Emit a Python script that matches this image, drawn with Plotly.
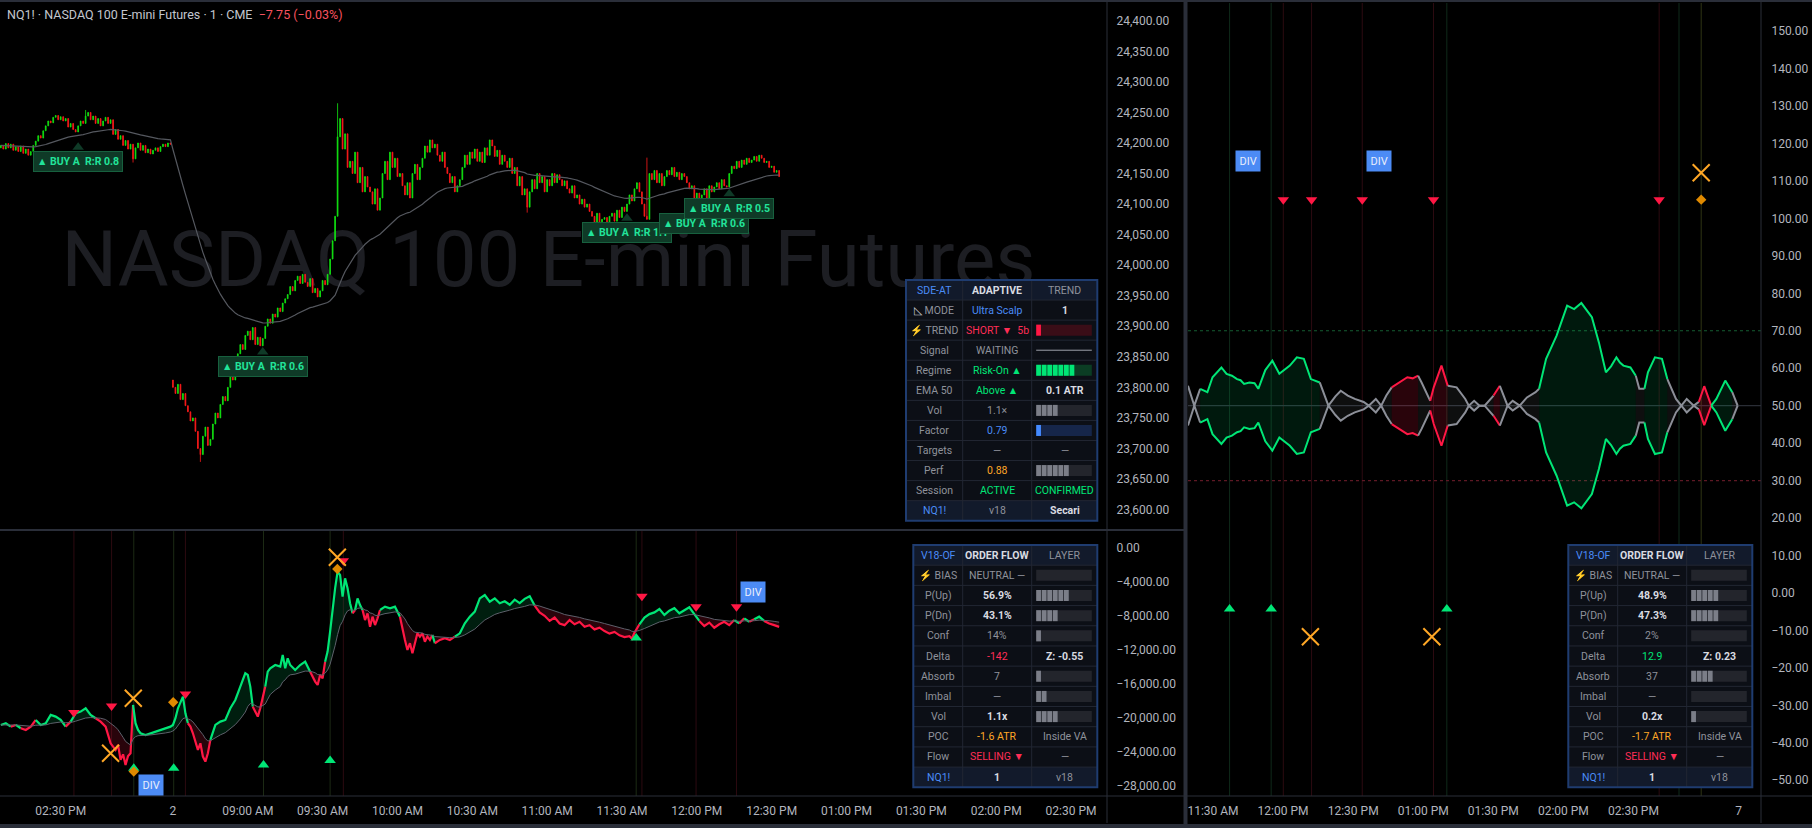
import plotly.graph_objects as go

W, H = 1812, 828
FONT = "Roboto"

# ------------------------------------------------------------------ price data (1-min bars; slot = list position)
day1_open = 24192
day1_close = [24196, 24190, 24199, 24192, 24198, 24188, 24194, 24186, 24195, 24183, 24190, 24180, 24186,
              24196, 24203, 24212, 24208, 24220,
              24228, 24236, 24233, 24242,
              24245, 24238, 24243, 24236, 24240,
              24226, 24232, 24222, 24218, 24228,
              24236, 24232, 24244, 24250,
              24238, 24244, 24232, 24240, 24228,
              24236, 24242, 24232, 24238,
              24214, 24222, 24206, 24212,
              24196, 24204, 24190, 24198, 24174,
              24192, 24200, 24188, 24196,
              24184, 24190, 24182, 24188, 24192, 24186,
              24194, 24198, 24194, 24200, 24198]
day2_open = 23812
day2_close = [23800, 23790, 23805, 23780, 23790, 23770,
              23760, 23745, 23750, 23728,
              23700, 23690,
              23720, 23735, 23705, 23715,
              23740, 23758, 23750, 23772, 23785, 23778,
              23800, 23820, 23812, 23840,
              23855, 23870, 23862, 23885,
              23892, 23878, 23898, 23870, 23882, 23868, 23880,
              23900, 23912, 23905, 23920, 23915, 23930, 23924, 23938, 23945,
              23952, 23965, 23958, 23975, 23982, 23970,
              23985, 23972, 23965, 23978, 23955, 23962, 23948,
              23958, 23975, 23968, 23985,
              24010, 24040, 24080,
              24210,
              24240, 24190, 24215, 24160,
              24170, 24150, 24185, 24135, 24160, 24120, 24145, 24128,
              24120, 24100, 24125, 24090, 24110,
              24150, 24170, 24140, 24185, 24160, 24175, 24145, 24150,
              24130, 24115, 24135, 24110,
              24150, 24165, 24140, 24160,
              24175, 24195, 24185, 24205, 24192, 24198,
              24180, 24170, 24185, 24160,
              24150, 24135, 24145, 24120, 24130, 24140,
              24160, 24180, 24165, 24185,
              24175, 24190, 24170, 24185, 24168, 24192, 24180, 24205,
              24195, 24178, 24188, 24165, 24180, 24170, 24160, 24175,
              24150, 24160, 24130, 24145, 24115, 24125, 24095, 24120,
              24140, 24125, 24150, 24135, 24145, 24120, 24140, 24130,
              24150, 24135, 24148, 24140, 24130, 24138,
              24125, 24118, 24130, 24110, 24115, 24100, 24108, 24095, 24100, 24088,
              24080, 24070, 24085, 24065, 24075, 24078, 24068, 24080,
              24085, 24072, 24090, 24078, 24095, 24088,
              24100, 24115, 24105, 24125, 24135, 24120,
              24100, 24080, 24075, 24150,
              24140, 24155, 24135, 24150, 24130, 24145,
              24155, 24148, 24160, 24145, 24152, 24140, 24150, 24145,
              24135, 24125, 24130, 24110, 24118, 24105,
              24115, 24125, 24108, 24130, 24120, 24128,
              24135, 24125, 24140, 24130, 24128,
              24150, 24162, 24158,
              24170, 24160, 24172, 24165, 24175, 24168, 24172, 24178, 24170, 24180,
              24175, 24168, 24170, 24160, 24162, 24152, 24155, 24145]
wick_high = {34: 24254, 135: 24265, 259: 24176}
wick_low = {53: 24168, 80: 23678, 211: 24086, 240: 24058}
ema_len = 50

buy_slot = [31, 105, 251, 282, 292]
buy_tip = [24193, 23858, 24077, 24092, 24117]
buy_rr = ["0.8", "0.6", "1.1", "0.6", "0.5"]

left_tick_slot = [24, 69, 99, 129, 159, 189, 219, 249, 279, 309, 339, 369, 399, 429]
left_tick_text = ["02:30 PM", "2", "09:00 AM", "09:30 AM", "10:00 AM", "10:30 AM", "11:00 AM",
                  "11:30 AM", "12:00 PM", "12:30 PM", "01:00 PM", "01:30 PM", "02:00 PM", "02:30 PM"]

# ------------------------------------------------------------------ order-flow oscillator (lower-left pane)
osc_slot = [0, 2, 4, 6, 8, 10, 12, 14, 16, 18,
            20, 22, 24, 26, 28, 30, 32, 34, 36, 38,
            40, 42, 44, 46, 47, 48, 49, 50, 51, 52,
            53, 54, 55, 56, 58, 60, 62, 64, 66, 68,
            69, 70, 71, 72, 73, 74, 75, 76, 77, 78,
            79, 80, 81, 82, 83, 84, 85, 86, 88, 90,
            92, 94, 96, 98, 99, 100, 101, 102, 103, 104,
            106, 107, 108, 110, 112, 113, 114, 115, 116, 118,
            120, 122, 124, 126, 127, 128, 129, 130, 131, 132,
            133, 134, 135, 136, 137, 138, 139, 140, 141, 142,
            143, 144, 145, 146, 147, 148, 149, 150, 151, 152,
            154, 156, 158, 160, 161, 162, 163, 164, 165, 166,
            167, 168, 169, 170, 171, 172, 173, 174, 176, 178,
            180, 182, 184, 186, 188, 190, 192, 194, 196, 198,
            200, 202, 204, 206, 208, 210, 212, 214, 216, 218,
            220, 222, 224, 226, 228, 230, 232, 234, 236, 238,
            240, 242, 244, 246, 248, 250, 252, 253, 254, 256,
            258, 260, 262, 264, 266, 268, 270, 272, 274, 276,
            278, 280, 282, 284, 286, 288, 290, 292, 294, 296,
            298, 300, 302, 304, 306, 308, 310, 312]
osc_val = [-20840, -20640, -21040, -20840, -21230, -21430, -21040, -20250, -20840, -20640,
           -19660, -19860, -20250, -21040, -20450, -19470, -19270, -18880, -19660, -20050,
           -20450, -21040, -23000, -23780, -23200, -24950, -24300, -25540, -24500, -24170,
           -18490, -20640, -21430, -21820, -22020, -21820, -21630, -21430, -21230, -21040,
           -20840, -20050, -18880, -18290, -17510, -19470, -20640, -21040, -21820, -22800,
           -23780, -23000, -24560, -25150, -24170, -22600, -21630, -20840, -20450, -20250,
           -18880, -17900, -16330, -14760, -14960, -16330, -18690, -19280, -19860, -18880,
           -16330, -14570, -14180, -13790, -13980, -12600, -14180, -13000, -13790, -14370,
           -13790, -13400, -14570, -15740, -16130, -14960, -15350, -13400, -12210, -9870,
           -7120, -4770, -2810, -3200, -5750, -3590, -4770, -6530, -7710, -7320,
           -5950, -6740, -7320, -8500, -7710, -9280, -8100, -9090, -8300, -7320,
           -6930, -7130, -6930, -8100, -9670, -10840, -12020, -11230, -12410, -11040,
           -10060, -10450, -10060, -11040, -10450, -10840, -10250, -11230, -10840, -10640,
           -10840, -10450, -10060, -8890, -8100, -7510, -5950, -5550, -6340, -5950,
           -6530, -6300, -6700, -6100, -6500, -6000, -5700, -6800, -7600, -8000,
           -8600, -8200, -8900, -9100, -8500, -9000, -8700, -9300, -9100, -9600,
           -9400, -9800, -10100, -9900, -10300, -10500, -10400, -10700, -10000, -9000,
           -8200, -7800, -7600, -7200, -7900, -7400, -7100, -7700, -7300, -7000,
           -7800, -8600, -9200, -8800, -9400, -9000, -8700, -9100, -8500, -8900,
           -8300, -8700, -8400, -8100, -8600, -8900, -9100, -9300]
osc_sig_alpha = 0.15

osc_sell_slot = [29.3, 44.4, 74.0, 137.3, 257.0, 278.7, 294.9]
osc_sell_val = [-19390, -18600, -17190, -1510, -5710, -6930, -6930]
osc_buy_slot = [53.3, 69.3, 105.3, 132.0, 254.7]
osc_buy_val = [-25930, -25930, -25540, -25030, -10600]
osc_x_slot = [53.1, 44.0, 134.9]
osc_x_val = [-17700, -24170, -1120]
osc_dia_slot = [69.1, 134.9, 53.3]
osc_dia_val = [-18170, -2490, -26330]
osc_div_slot = [60.0, 301.4]
osc_div_val = [-27890, -5170]

# ------------------------------------------------------------------ right pane: symmetric envelope around 50
env_t = [19.3, 22.0, 24.5, 27.6, 29.8, 33.6, 35.8, 38.1, 40.3, 41.8,
         43.3, 45.6, 47.8, 49.4, 52.4, 55.4, 58.4, 62.9, 65.9, 68.9,
         71.9, 75.7, 79.4, 82.4, 84.7, 87.7, 90.7, 94.5, 96.7, 99.7,
         102.0, 104.2, 106.5, 109.5, 113.2, 115.5, 117.8, 119.3, 123.0, 124.5,
         127.8, 130.5, 134.3, 138.0, 139.5, 141.8, 144.1, 146.3, 150.1, 152.8,
         154.6, 156.1, 158.3, 161.3, 164.4, 168.1, 169.6, 172.6, 177.1, 181.6,
         184.6, 187.7, 192.2, 195.2, 198.2, 200.4, 202.7, 204.2, 205.7, 208.7,
         211.0, 212.5, 214.7, 216.2, 219.2, 222.2, 224.5, 228.2, 230.5, 232.8,
         235.8, 238.0, 240.3, 243.3, 245.5, 249.3, 252.3, 254.6]
env_amp = [5.3, 0, 4.5, 3.6, 7.6, 10.2, 8.5, 8.0, 7.1, 6.8,
           5.8, 6.2, 6.0, 4.5, 9.5, 12.0, 8.5, 10.7, 12.9, 12.5,
           7.1, 6.2, 0, 2.5, 4.0, 2.7, 1.8, 1.0, 0, 1.8,
           0, 2.7, 4.9, 6.2, 7.6, 7.3, 8.0, 6.2, 1.3, 4.9,
           10.7, 5.3, 4.9, 1.8, 0, 1.3, 0, 0, 2.7, 5.3,
           2.5, 0, 1.3, 0, 2.2, 3.6, 4.5, 12.5, 18.7, 26.7,
           25.8, 27.4, 23.6, 16.9, 8.9, 10.5, 12.9, 11.5, 10.7, 10.2,
           8.0, 4.5, 4.5, 8.9, 12.9, 12.5, 7.1, 1.8, 0, 1.8,
           0, 1.0, 5.2, 0, 1.8, 6.7, 3.6, 0]
env_state = ("nn" + "ggggggggggggggggggg" + "nnnnnnnnnnn" + "rrrr" + "nn" + "rrr" + "nnnnnnn" + "r" +
             "nnnnnnn" + "gggggggggggggg" + "nn" + "gggg" + "nnnnn" + "rr" + "ggg" + "nn")
env_mid, env_hi, env_lo = 50, 70, 30

right_tick_t = [30, 60, 90, 120, 150, 180, 210, 255]
right_tick_text = ["11:30 AM", "12:00 PM", "12:30 PM", "01:00 PM", "01:30 PM", "02:00 PM", "02:30 PM", "7"]

r_sell_t = [60.1, 72.2, 93.9, 124.4, 221.0]
r_sell_val = [105, 105, 105, 105, 105]
r_buy_t = [37.1, 54.9, 130.1]
r_buy_val = [-4.3, -4.3, -4.3]
r_x_t = [239.0, 71.7, 123.7]
r_x_val = [112.2, -11.7, -11.7]
r_dia_t = [239.0]
r_dia_val = [105]
r_div_t = [45.1, 101.2]
r_div_val = [115.4, 115.4]
r_extra_line_t = [229.5]

# ------------------------------------------------------------------ tables
BOLT = "<span style='color:#ff9800'>⚡</span>"
ICON = "<span style='color:#c8cad0'>◺</span>"
table1 = [
    [("SDE-AT", "b", 0), ("ADAPTIVE", "w", 1), ("TREND", "g", 0)],
    [(ICON + " MODE", "g", 0), ("Ultra Scalp", "b", 0), ("1", "w", 1)],
    [(BOLT + " TREND", "g", 0), ("SHORT ▼\u00a0\u00a05b", "r", 0), ("#bar", "red", 0.1)],
    [("Signal", "g", 0), ("WAITING", "g", 0), ("#dash",)],
    [("Regime", "g", 0), ("Risk-On ▲", "gr", 0), ("#bar", "green", 0.7)],
    [("EMA 50", "g", 0), ("Above ▲", "gr", 0), ("0.1 ATR", "w", 1)],
    [("Vol", "g", 0), ("1.1×", "g", 0), ("#bar", "gray", 0.4)],
    [("Factor", "g", 0), ("0.79", "b", 0), ("#bar", "blue", 0.1)],
    [("Targets", "g", 0), ("—", "g", 0), ("—", "g", 0)],
    [("Perf", "g", 0), ("0.88", "o", 0), ("#bar", "gray", 0.6)],
    [("Session", "g", 0), ("ACTIVE", "gr", 0), ("CONFIRMED", "gr", 0)],
    [("NQ1!", "b", 0), ("v18", "g", 0), ("Secari", "w", 1)],
]
table2 = [
    [("V18-OF", "b", 0), ("ORDER FLOW", "w", 1), ("LAYER", "g", 0)],
    [(BOLT + " BIAS", "g", 0), ("NEUTRAL —", "g", 0), ("#bar", "gray", 0.0)],
    [("P(Up)", "g", 0), ("56.9%", "w", 1), ("#bar", "gray", 0.6)],
    [("P(Dn)", "g", 0), ("43.1%", "w", 1), ("#bar", "gray", 0.4)],
    [("Conf", "g", 0), ("14%", "g", 0), ("#bar", "gray", 0.1)],
    [("Delta", "g", 0), ("-142", "r", 0), ("Z: -0.55", "w", 1)],
    [("Absorb", "g", 0), ("7", "g", 0), ("#bar", "gray", 0.1)],
    [("Imbal", "g", 0), ("—", "g", 0), ("#bar", "gray", 0.2)],
    [("Vol", "g", 0), ("1.1x", "w", 1), ("#bar", "gray", 0.4)],
    [("POC", "g", 0), ("-1.6 ATR", "o", 0), ("Inside VA", "g", 0)],
    [("Flow", "g", 0), ("SELLING ▼", "r", 0), ("—", "g", 0)],
    [("NQ1!", "b", 0), ("1", "w", 1), ("v18", "g", 0)],
]
table3 = [
    [("V18-OF", "b", 0), ("ORDER FLOW", "w", 1), ("LAYER", "g", 0)],
    [(BOLT + " BIAS", "g", 0), ("NEUTRAL —", "g", 0), ("#bar", "gray", 0.0)],
    [("P(Up)", "g", 0), ("48.9%", "w", 1), ("#bar", "gray", 0.5)],
    [("P(Dn)", "g", 0), ("47.3%", "w", 1), ("#bar", "gray", 0.5)],
    [("Conf", "g", 0), ("2%", "g", 0), ("#bar", "gray", 0.0)],
    [("Delta", "g", 0), ("12.9", "gr", 0), ("Z: 0.23", "w", 1)],
    [("Absorb", "g", 0), ("37", "g", 0), ("#bar", "gray", 0.4)],
    [("Imbal", "g", 0), ("—", "g", 0), ("#bar", "gray", 0.0)],
    [("Vol", "g", 0), ("0.2x", "w", 1), ("#bar", "gray", 0.1)],
    [("POC", "g", 0), ("-1.7 ATR", "o", 0), ("Inside VA", "g", 0)],
    [("Flow", "g", 0), ("SELLING ▼", "r", 0), ("—", "g", 0)],
    [("NQ1!", "b", 0), ("1", "w", 1), ("v18", "g", 0)],
]

# ------------------------------------------------------------------ styles
GREEN, RED, GRAYL = "#00e676", "#ff1744", "#8c8f98"
TXT = dict(b="#4a8cf7", w="#d9dbe1", g="#8f929b", r="#ff2d55", gr="#00e676", o="#ffa726")
BAR_BG = dict(red="#3a0d17", green="#0b3d24", gray="#23252c", blue="#16264a")
BAR_FG = dict(red="#ff1744", green="#00e676", gray="#7b7e88", blue="#448aff")
FRAME = "#2a2e39"

# ------------------------------------------------------------------ derived series
closes = day1_close + day2_close
opens = [day1_open] + day1_close[:-1] + [day2_open] + day2_close[:-1]
slots = list(range(len(closes)))
highs = [max(o, c) for o, c in zip(opens, closes)]
lows = [min(o, c) for o, c in zip(opens, closes)]
for k, v in wick_high.items():
    highs[k] = max(highs[k], v)
for k, v in wick_low.items():
    lows[k] = min(lows[k], v)

ema = []
ka = 2.0 / (ema_len + 1)
for c in closes:
    ema.append(c if not ema else ema[-1] + ka * (c - ema[-1]))

sig = []
for v in osc_val:
    sig.append(v if not sig else sig[-1] + osc_sig_alpha * (v - sig[-1]))


def runs(flags):
    out, s = [], 0
    for i in range(1, len(flags)):
        if flags[i] != flags[s]:
            out.append((s, i, flags[s]))
            s = i
    if s < len(flags) - 1:
        out.append((s, len(flags) - 1, flags[s]))
    return out


fig = go.Figure()

# watermark on the base subplot (drawn beneath the overlay with the candles)
fig.add_trace(go.Scatter(x=[(-0.33 + 443.43) / 2 - 2], y=[(23568.2 + 24429.1) / 2], mode="text",
                         text=["NASDAQ 100 E-mini Futures"], xaxis="x", yaxis="y",
                         textfont=dict(family=FONT, size=78, color="#1d1e23"), hoverinfo="skip"))

fig.add_trace(go.Candlestick(x=slots, open=opens, high=highs, low=lows, close=closes,
                             xaxis="x", yaxis="y4", whiskerwidth=0,
                             increasing=dict(line=dict(color="#12e612", width=0.8), fillcolor="#12e612"),
                             decreasing=dict(line=dict(color="#ff1a1a", width=0.8), fillcolor="#ff1a1a"),
                             hoverinfo="skip"))
fig.add_trace(go.Scatter(x=slots, y=ema, mode="lines", xaxis="x", yaxis="y4",
                         line=dict(color="#55585f", width=1.2), hoverinfo="skip"))
fig.add_trace(go.Scatter(x=buy_slot, y=buy_tip, mode="markers", xaxis="x", yaxis="y4",
                         marker=dict(symbol="triangle-up", size=10, color="#0f3a27"), hoverinfo="skip"))

# oscillator with fill between it and its signal line
flags = [v >= s for v, s in zip(osc_val, sig)]
for s, e, up in runs(flags):
    xs = osc_slot[s:e + 1]
    fig.add_trace(go.Scatter(x=xs, y=sig[s:e + 1], mode="lines", xaxis="x", yaxis="y2",
                             line=dict(width=0, color="rgba(0,0,0,0)"), hoverinfo="skip"))
    fig.add_trace(go.Scatter(x=xs, y=osc_val[s:e + 1], mode="lines", xaxis="x", yaxis="y2",
                             fill="tonexty",
                             fillcolor="rgba(0,230,118,0.13)" if up else "rgba(255,23,68,0.16)",
                             line=dict(width=2.2, color=GREEN if up else RED), hoverinfo="skip"))
fig.add_trace(go.Scatter(x=osc_slot, y=sig, mode="lines", xaxis="x", yaxis="y2",
                         line=dict(width=1, color="#5d606b"), hoverinfo="skip"))


def marks(x, y, xa, ya, symbol, size, color, lw=0):
    fig.add_trace(go.Scatter(x=x, y=y, mode="markers", xaxis=xa, yaxis=ya, hoverinfo="skip",
                             marker=dict(symbol=symbol, size=size, color=color,
                                         line=dict(width=lw, color=color))))


marks(osc_sell_slot, osc_sell_val, "x", "y2", "triangle-down", 10, RED)
marks(osc_buy_slot, osc_buy_val, "x", "y2", "triangle-up", 10, GREEN)
marks(osc_x_slot, osc_x_val, "x", "y2", "x-thin", 17, "#ffa726", 2)
marks(osc_dia_slot, osc_dia_val, "x", "y2", "diamond", 8, "#e08a00")

# right pane envelope
ENV_LINE = dict(g=GREEN, r=RED, n=GRAYL)
ENV_FILL = dict(g="rgba(0,230,118,0.11)", r="rgba(255,23,68,0.16)", n="rgba(140,143,152,0.10)")
for s, e, st in runs(list(env_state)):
    xs = env_t[s:e + 1]
    a = env_amp[s:e + 1]
    fig.add_trace(go.Scatter(x=xs, y=[env_mid - v for v in a], mode="lines", xaxis="x2", yaxis="y3",
                             line=dict(width=2, color=ENV_LINE[st]), hoverinfo="skip"))
    fig.add_trace(go.Scatter(x=xs, y=[env_mid + v for v in a], mode="lines", xaxis="x2", yaxis="y3",
                             fill="tonexty", fillcolor=ENV_FILL[st],
                             line=dict(width=2, color=ENV_LINE[st]), hoverinfo="skip"))

marks(r_sell_t, r_sell_val, "x2", "y3", "triangle-down", 10, RED)
marks(r_buy_t, r_buy_val, "x2", "y3", "triangle-up", 10, GREEN)
marks(r_x_t, r_x_val, "x2", "y3", "x-thin", 17, "#ffa726", 2)
marks(r_dia_t, r_dia_val, "x2", "y3", "diamond", 8, "#e08a00")

# ------------------------------------------------------------------ shapes & annotations
shapes, ann = [], []


def box(x0, y0, x1, y1, fill, layer="above"):
    shapes.append(dict(type="rect", xref="paper", yref="paper", x0=x0 / W, x1=x1 / W,
                       y0=1 - y1 / H, y1=1 - y0 / H, fillcolor=fill, line=dict(width=0), layer=layer))


def outline(x0, y0, x1, y1, color, w):
    shapes.append(dict(type="rect", xref="paper", yref="paper", x0=x0 / W, x1=x1 / W,
                       y0=1 - y1 / H, y1=1 - y0 / H, line=dict(color=color, width=w), layer="above"))


def seg(x0, y0, x1, y1, color, w):
    shapes.append(dict(type="line", xref="paper", yref="paper", x0=x0 / W, x1=x1 / W,
                       y0=1 - y0 / H, y1=1 - y1 / H, line=dict(color=color, width=w), layer="above"))


def vline(x, xref, yref, color):
    shapes.append(dict(type="line", xref=xref, yref=yref, x0=x, x1=x, y0=0, y1=1,
                       line=dict(color=color, width=1), layer="below"))


for x in osc_sell_slot:
    vline(x, "x", "y2 domain", "#2c0a10")
for x in osc_buy_slot:
    vline(x, "x", "y2 domain", "#1c2a14")
for x in r_sell_t:
    vline(x, "x2", "y3 domain", "#2c0a10")
for x in r_buy_t + r_extra_line_t:
    vline(x, "x2", "y3 domain", "#0f2a1a")
for x in r_x_t[:1]:
    vline(x, "x2", "y3 domain", "#2f3514")

for yv, col, dash in [(env_mid, "#2a2d35", "solid"), (env_hi, "#145c32", "dot"), (env_lo, "#5e1824", "dot")]:
    shapes.append(dict(type="line", xref="x2 domain", yref="y3", x0=0, x1=1, y0=yv, y1=yv,
                       line=dict(color=col, width=1.2, dash=dash), layer="below"))

# frame lines
seg(0, 1, W, 1, FRAME, 2)
seg(0, 530, 1184, 530, FRAME, 2)
seg(1107, 0, 1107, 823, FRAME, 1)
seg(1185.5, 0, 1185.5, 828, FRAME, 4)
seg(1761, 0, 1761, 823, FRAME, 1)
seg(0, 796, W, 796, FRAME, 1)
seg(0, 826, W, 826, FRAME, 4)


def add_table(cols, top, rh, rows):
    n = len(rows)
    bot = top + rh * n
    box(cols[0], top, cols[-1], bot, "#0c0f16")
    box(cols[0], top, cols[-1], top + rh, "#121a2b")
    box(cols[0], bot - rh, cols[-1], bot, "#121a2b")
    for i in range(1, n):
        seg(cols[0], top + i * rh, cols[-1], top + i * rh, "#222733", 1)
    for cx in cols[1:-1]:
        seg(cx, top, cx, bot, "#222733", 1)
    outline(cols[0], top, cols[-1], bot, "#1f3c70", 2)
    for r, row in enumerate(rows):
        cy = top + (r + 0.5) * rh
        for c, cell in enumerate(row):
            xa, xb = cols[c], cols[c + 1]
            if cell[0] == "#bar":
                _, style, frac = cell
                bx0, bx1 = xa + 4.5, xb - 5.5
                box(bx0, cy - 5.5, bx1, cy + 5.5, BAR_BG[style])
                bw = (bx1 - bx0) / 10
                for j in range(int(round(frac * 10))):
                    box(bx0 + j * bw, cy - 5.5, bx0 + (j + 1) * bw - 0.8, cy + 5.5, BAR_FG[style])
            elif cell[0] == "#dash":
                seg(xa + 4.5, cy, xb - 5.5, cy, "#9ea1aa", 1)
            else:
                text, col, bold = cell
                ann.append(dict(x=(xa + xb) / 2 / W, y=1 - cy / H, xref="paper", yref="paper",
                                text=("<b>%s</b>" % text) if bold else text, showarrow=False,
                                xanchor="center", yanchor="middle",
                                font=dict(family=FONT, size=10.5, color=TXT[col])))


add_table([906, 962.7, 1031.7, 1097.3], 280, 20.06, table1)
add_table([913.3, 962.7, 1031.7, 1097.3], 545, 20.19, table2)
add_table([1568.3, 1617.7, 1686.7, 1752.3], 545, 20.19, table3)

# BUY labels
for s, y, rr in zip(buy_slot, buy_tip, buy_rr):
    ann.append(dict(x=s, y=y, xref="x", yref="y4", yanchor="top", xanchor="center", yshift=-4,
                    text="<b>▲ BUY A\u00a0\u00a0R:R %s</b>" % rr, showarrow=False,
                    bgcolor="#0f3a27", bordercolor="#17603e", borderwidth=1, borderpad=3,
                    font=dict(family=FONT, size=10.5, color="#22e39a")))

# DIV labels
for s, v in zip(osc_div_slot, osc_div_val):
    ann.append(dict(x=s, y=v, xref="x", yref="y2", showarrow=False, text="DIV",
                    bgcolor="#4c8bf5", borderpad=3.5, font=dict(family=FONT, size=11, color="#e8eefc")))
for t, v in zip(r_div_t, r_div_val):
    ann.append(dict(x=t, y=v, xref="x2", yref="y3", showarrow=False, text="DIV",
                    bgcolor="#4c8bf5", borderpad=3.5, font=dict(family=FONT, size=11, color="#e8eefc")))

# title
ann.append(dict(x=5 / W, y=1 - 15 / H, xref="paper", yref="paper", xanchor="left", yanchor="middle",
                showarrow=False,
                text="NQ1! · NASDAQ 100 E-mini Futures · 1 · CME\u00a0\u00a0"
                     "<span style='color:#f7525f'>−7.75 (−0.03%)</span>",
                font=dict(family=FONT, size=12.5, color="#c3c6ce")))

tickfont = dict(family=FONT, size=12, color="#b2b5be")
base = dict(showgrid=False, zeroline=False, showline=False, fixedrange=True,
            ticks="outside", tickcolor="rgba(0,0,0,0)", tickfont=tickfont)

fig.update_layout(
    width=W, height=H, margin=dict(l=0, r=0, t=0, b=0),
    paper_bgcolor="#000000", plot_bgcolor="#000000", showlegend=False, boxgap=0.55,
    xaxis=dict(domain=[0, 1107 / W], range=[-0.33, 443.43], anchor="y2", tickmode="array",
               tickvals=left_tick_slot, ticktext=left_tick_text, ticklen=4,
               rangeslider=dict(visible=False), **base),
    yaxis=dict(domain=[1 - 529 / H, 1 - 3 / H], range=[23568.2, 24429.1], side="right", anchor="x",
               tickmode="array", tickvals=list(range(23600, 24401, 50)), tickformat=",.2f", ticklen=6, **base),
    yaxis4=dict(range=[23568.2, 24429.1], overlaying="y", anchor="x", side="right", visible=False,
                fixedrange=True),
    yaxis2=dict(domain=[1 - 796 / H, 1 - 531 / H], range=[-29200, 1976], side="right", anchor="x",
                tickmode="array", tickvals=list(range(-28000, 1, 4000)), tickformat=",.2f", ticklen=6, **base),
    xaxis2=dict(domain=[1188 / W, 1761 / W], range=[19.3, 264.6], anchor="y3", tickmode="array",
                tickvals=right_tick_t, ticktext=right_tick_text, ticklen=4, **base),
    yaxis3=dict(domain=[1 - 796 / H, 1 - 3 / H], range=[-54.2, 157.5], side="right", anchor="x2",
                tickmode="array", tickvals=list(range(-50, 151, 10)), tickformat=",.2f", ticklen=7, **base),
    shapes=shapes, annotations=ann,
)

fig.write_html("out.html", config={"displayModeBar": False},
               post_script="document.body.style.margin='0';document.body.style.overflow='hidden';")
